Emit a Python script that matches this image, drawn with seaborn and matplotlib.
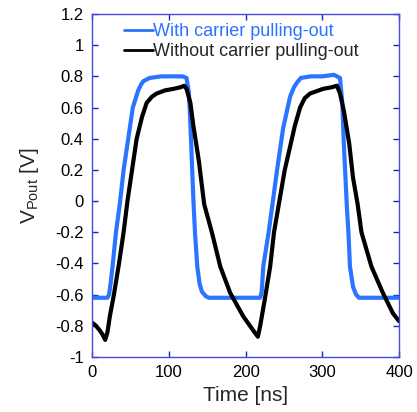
import matplotlib
matplotlib.use("Agg")
import matplotlib.pyplot as plt
import seaborn as sns
import pandas as pd

# values
t_with = [0, 10, 20, 22, 24, 27, 31, 36, 41, 47, 53, 60, 64, 67, 75, 90, 105, 118, 123,
          126, 128, 130, 132, 134, 137, 140, 143, 148, 152, 170, 190, 210, 219,
          221, 223, 230, 235, 241, 249, 258, 263, 267, 272, 285, 300, 315, 323,
          326, 328, 332, 334, 336, 340, 344, 348, 360, 380, 400]
v_with = [-0.62, -0.62, -0.62, -0.60, -0.53, -0.40, -0.20, -0.02, 0.20, 0.40, 0.60, 0.71, 0.75, 0.77, 0.79, 0.80, 0.80, 0.80, 0.79,
          0.70, 0.50, 0.25, 0.00, -0.20, -0.42, -0.53, -0.58, -0.61, -0.62, -0.62, -0.62, -0.62, -0.62,
          -0.58, -0.42, -0.20, -0.02, 0.20, 0.47, 0.67, 0.73, 0.76, 0.79, 0.80, 0.80, 0.81, 0.79,
          0.63, 0.37, -0.04, -0.20, -0.42, -0.55, -0.60, -0.62, -0.62, -0.62, -0.62]

t_without = [0, 5, 10, 14, 17, 20, 23, 28, 35, 41, 46, 52, 58, 65, 71, 78, 84, 95, 106, 115, 120,
             123, 128, 132, 139, 146, 156, 167, 180, 197, 210, 216,
             219, 225, 232, 237, 244, 251, 258, 264, 271, 277, 284, 301, 312, 319,
             323, 328, 335, 340, 346, 351, 364, 379, 392, 400]
v_without = [-0.78, -0.80, -0.83, -0.86, -0.89, -0.84, -0.74, -0.61, -0.40, -0.20, 0.00, 0.20, 0.40, 0.54, 0.63, 0.67, 0.69, 0.71, 0.72, 0.73, 0.74,
             0.72, 0.63, 0.48, 0.26, -0.02, -0.20, -0.42, -0.59, -0.74, -0.83, -0.87,
             -0.80, -0.63, -0.42, -0.20, 0.00, 0.20, 0.35, 0.48, 0.60, 0.66, 0.69, 0.72, 0.73, 0.74,
             0.69, 0.58, 0.37, 0.15, -0.02, -0.20, -0.42, -0.59, -0.72, -0.77]

label_with = "With carrier pulling-out"
label_without = "Without carrier pulling-out"
x_ticks = [0, 100, 200, 300, 400]
y_ticks = [-1, -0.8, -0.6, -0.4, -0.2, 0, 0.2, 0.4, 0.6, 0.8, 1, 1.2]

blue = "#2b74ff"
frame = "#4a4ae0"

sns.set_style("ticks")
plt.rcParams["font.family"] = ["Liberation Sans", "DejaVu Sans"]
plt.rcParams["mathtext.default"] = "regular"

df_with = pd.DataFrame({"t": t_with, "v": v_with})
df_without = pd.DataFrame({"t": t_without, "v": v_without})

fig = plt.figure(figsize=(4.17, 4.12), dpi=100)
ax = fig.add_axes([0.221, 0.1335, 0.736, 0.8325])

sns.lineplot(data=df_with, x="t", y="v", color=blue, lw=3, sort=False,
             estimator=None, label=label_with, ax=ax)
sns.lineplot(data=df_without, x="t", y="v", color="black", lw=3, sort=False,
             estimator=None, label=label_without, ax=ax)

ax.set_xlim(0, 400)
ax.set_ylim(-1, 1.2)
ax.set_xticks(x_ticks)
ax.set_yticks(y_ticks)
ax.set_xticklabels([str(x) for x in x_ticks])
ax.set_yticklabels(["-1", "-0.8", "-0.6", "-0.4", "-0.2", "0", "0.2", "0.4", "0.6", "0.8", "1", "1.2"])
ax.tick_params(direction="in", length=4, width=1, color="#2020c0", labelsize=12,
               top=True, right=True, pad=6, labelcolor="black")
for s in ax.spines.values():
    s.set_color(frame)
    s.set_linewidth(1)

ax.set_xlabel("Time [ns]", fontsize=15, labelpad=4)
ax.set_ylabel(r"V$_{Pout}$ [V]", fontsize=15, labelpad=10)

leg = ax.legend(loc="upper left", bbox_to_anchor=(0.07, 1.005), frameon=False, fontsize=13,
                handlelength=1.6, handletextpad=0.0, labelspacing=0.15, borderaxespad=0.2)
for line in leg.get_lines():
    line.set_linewidth(2)
leg.get_texts()[0].set_color(blue)

fig.savefig("out.png", dpi=100)
